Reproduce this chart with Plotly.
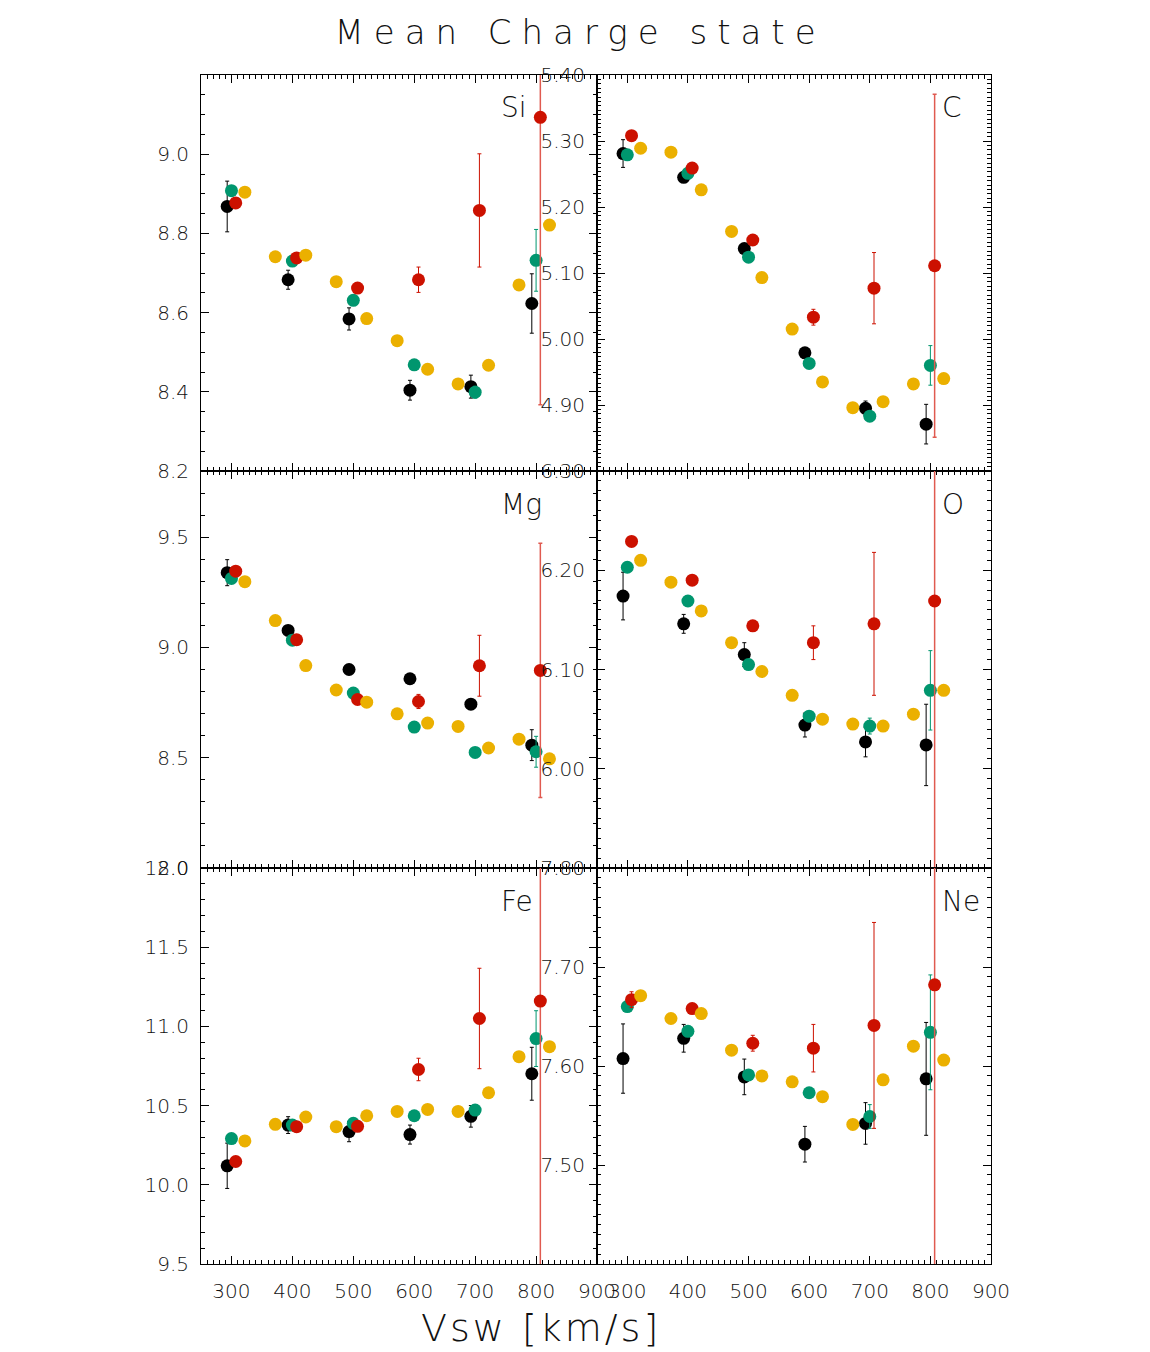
import plotly.graph_objects as go

# ---------------- data ----------------
vsw_black = [293, 393, 493, 593, 693, 793]
vsw_green = [300, 400, 500, 600, 700, 800]
vsw_red = [307, 407, 507, 607, 707, 807]
vsw_yellow = [322, 372, 422, 472, 522, 572, 622, 672, 722, 772, 822]

x_tick_vals = [300, 400, 500, 600, 700, 800, 900]

# Si
si_black = [8.868, 8.683, 8.584, 8.404, 8.413, 8.623]
si_black_err = [0.064, 0.024, 0.028, 0.025, 0.029, 0.075]
si_green = [8.908, 8.730, 8.631, 8.468, 8.399, 8.732]
si_green_err = [0.010, 0.005, 0.005, 0.005, 0.015, 0.078]
si_red = [8.877, 8.738, 8.662, 8.683, 8.858, 9.093]
si_red_err = [0.005, 0.005, 0.005, 0.032, 0.143, 0.726]
si_yellow = [8.904, 8.741, 8.745, 8.678, 8.585, 8.529, 8.457, 8.420, 8.467, 8.670, 8.821]
si_ticks = [8.2, 8.4, 8.6, 8.8, 9.0]
si_ticktext = ["8.2", "8.4", "8.6", "8.8", "9.0"]

# C
c_black = [5.281, 5.245, 5.137, 4.979, 4.895, 4.871]
c_black_err = [0.021, 0.004, 0.004, 0.004, 0.011, 0.030]
c_green = [5.279, 5.251, 5.124, 4.963, 4.883, 4.960]
c_green_err = [0.003, 0.003, 0.003, 0.003, 0.005, 0.030]
c_red = [5.308, 5.259, 5.150, 5.033, 5.077, 5.111]
c_red_err = [0.003, 0.003, 0.003, 0.012, 0.054, 0.260]
c_yellow = [5.289, 5.283, 5.226, 5.163, 5.093, 5.015, 4.935, 4.896, 4.905, 4.932, 4.940]
c_ticks = [4.9, 5.0, 5.1, 5.2, 5.3, 5.4]
c_ticktext = ["4.90", "5.00", "5.10", "5.20", "5.30", "5.40"]

# Mg
mg_black = [9.339, 9.077, 8.900, 8.858, 8.743, 8.557]
mg_black_err = [0.059, 0.010, 0.015, 0.010, 0.015, 0.070]
mg_green = [9.313, 9.033, 8.793, 8.639, 8.524, 8.527]
mg_green_err = [0.010, 0.010, 0.005, 0.005, 0.005, 0.070]
mg_red = [9.346, 9.035, 8.764, 8.755, 8.917, 8.896]
mg_red_err = [0.005, 0.005, 0.005, 0.032, 0.138, 0.576]
mg_yellow = [9.298, 9.122, 8.918, 8.807, 8.752, 8.699, 8.657, 8.642, 8.544, 8.584, 8.495]
mg_ticks = [8.0, 8.5, 9.0, 9.5]
mg_ticktext = ["8.0", "8.5", "9.0", "9.5"]

# O
o_black = [6.174, 6.146, 6.115, 6.044, 6.027, 6.024]
o_black_err = [0.024, 0.0095, 0.012, 0.012, 0.015, 0.041]
o_green = [6.203, 6.169, 6.105, 6.053, 6.043, 6.079]
o_green_err = [0.002, 0.002, 0.002, 0.002, 0.008, 0.040]
o_red = [6.229, 6.190, 6.144, 6.127, 6.146, 6.169]
o_red_err = [0.002, 0.002, 0.002, 0.017, 0.072, 0.450]
o_yellow = [6.210, 6.188, 6.159, 6.127, 6.098, 6.074, 6.050, 6.045, 6.043, 6.055, 6.079]
o_ticks = [6.0, 6.1, 6.2, 6.3]
o_ticktext = ["6.00", "6.10", "6.20", "6.30"]

# Fe
fe_black = [10.120, 10.377, 10.336, 10.317, 10.432, 10.701]
fe_black_err = [0.143, 0.053, 0.064, 0.060, 0.068, 0.167]
fe_green = [10.292, 10.377, 10.388, 10.436, 10.472, 10.923]
fe_green_err = [0.010, 0.020, 0.020, 0.010, 0.020, 0.176]
fe_red = [10.147, 10.367, 10.369, 10.728, 11.050, 11.160]
fe_red_err = [0.010, 0.010, 0.010, 0.071, 0.317, 1.800]
fe_yellow = [10.277, 10.382, 10.428, 10.367, 10.436, 10.463, 10.476, 10.463, 10.581, 10.809, 10.872]
fe_ticks = [9.5, 10.0, 10.5, 11.0, 11.5, 12.0]
fe_ticktext = ["9.5", "10.0", "10.5", "11.0", "11.5", "12.0"]

# Ne
ne_black = [7.6075, 7.628, 7.589, 7.521, 7.542, 7.587]
ne_black_err = [0.035, 0.014, 0.018, 0.018, 0.021, 0.057]
ne_green = [7.660, 7.635, 7.591, 7.573, 7.549, 7.634]
ne_green_err = [0.002, 0.002, 0.002, 0.002, 0.012, 0.058]
ne_red = [7.667, 7.658, 7.623, 7.618, 7.641, 7.682]
ne_red_err = [0.008, 0.002, 0.008, 0.024, 0.104, 0.450]
ne_yellow = [7.671, 7.648, 7.653, 7.616, 7.590, 7.584, 7.569, 7.541, 7.586, 7.620, 7.606]
ne_ticks = [7.5, 7.6, 7.7, 7.8]
ne_ticktext = ["7.50", "7.60", "7.70", "7.80"]

# ---------------- styling ----------------
W, H = 1150, 1352
FONT = "DejaVu Sans"
FW = 200
TXT = "#111111"
COL_BLACK = "#000000"
COL_GREEN = "#00966e"
COL_RED = "#cc1100"
COL_RED_LIGHT = "#e05a50"
COL_YELLOW = "#ebb000"

col_dom = [[201 / W, 597 / W], [597 / W, 991 / W]]
row_dom = [[1 - 471 / H, 1 - 75 / H], [1 - 868 / H, 1 - 471 / H], [1 - 1264 / H, 1 - 868 / H]]

panels = [
    dict(name="Si", row=0, col=0, yr=[8.2, 9.2], tv=si_ticks, tt=si_ticktext, minor=0.05,
         b=si_black, be=si_black_err, g=si_green, ge=si_green_err, r=si_red, re=si_red_err, y=si_yellow),
    dict(name="C", row=0, col=1, yr=[4.8, 5.4], tv=c_ticks, tt=c_ticktext, minor=0.1 / 15,
         b=c_black, be=c_black_err, g=c_green, ge=c_green_err, r=c_red, re=c_red_err, y=c_yellow),
    dict(name="Mg", row=1, col=0, yr=[8.0, 9.8], tv=mg_ticks, tt=mg_ticktext, minor=0.1,
         b=mg_black, be=mg_black_err, g=mg_green, ge=mg_green_err, r=mg_red, re=mg_red_err, y=mg_yellow),
    dict(name="O", row=1, col=1, yr=[5.9, 6.3], tv=o_ticks, tt=o_ticktext, minor=0.01,
         b=o_black, be=o_black_err, g=o_green, ge=o_green_err, r=o_red, re=o_red_err, y=o_yellow),
    dict(name="Fe", row=2, col=0, yr=[9.5, 12.0], tv=fe_ticks, tt=fe_ticktext, minor=0.1,
         b=fe_black, be=fe_black_err, g=fe_green, ge=fe_green_err, r=fe_red, re=fe_red_err, y=fe_yellow),
    dict(name="Ne", row=2, col=1, yr=[7.4, 7.8], tv=ne_ticks, tt=ne_ticktext, minor=0.01,
         b=ne_black, be=ne_black_err, g=ne_green, ge=ne_green_err, r=ne_red, re=ne_red_err, y=ne_yellow),
]

fig = go.Figure()
layout = dict(
    template="none",
    width=W, height=H, margin=dict(l=0, r=0, t=0, b=0, pad=0, autoexpand=False),
    paper_bgcolor="white", plot_bgcolor="white", showlegend=False,
    font=dict(family=FONT, color=TXT, weight=FW),
)

MS = 13


def err(vals, color, th=1):
    return dict(type="data", array=vals, visible=True, color=color, thickness=th, width=2)


annotations = []
for i, p in enumerate(panels):
    k = i + 1
    xa = "x" if k == 1 else f"x{k}"
    ya = "y" if k == 1 else f"y{k}"
    xkey = "xaxis" if k == 1 else f"xaxis{k}"
    ykey = "yaxis" if k == 1 else f"yaxis{k}"

    fig.add_trace(go.Scatter(x=vsw_black, y=p["b"], mode="markers", xaxis=xa, yaxis=ya,
                             marker=dict(color=COL_BLACK, size=MS, line=dict(width=0)),
                             error_y=err(p["be"], COL_BLACK)))
    fig.add_trace(go.Scatter(x=vsw_green, y=p["g"], mode="markers", xaxis=xa, yaxis=ya,
                             marker=dict(color=COL_GREEN, size=MS, line=dict(width=0)),
                             error_y=err(p["ge"], COL_GREEN)))
    fig.add_trace(go.Scatter(x=vsw_red[:-1], y=p["r"][:-1], mode="markers", xaxis=xa, yaxis=ya,
                             marker=dict(color=COL_RED, size=MS, line=dict(width=0)),
                             error_y=err(p["re"][:-1], COL_RED)))
    fig.add_trace(go.Scatter(x=vsw_red[-1:], y=p["r"][-1:], mode="markers", xaxis=xa, yaxis=ya,
                             marker=dict(color=COL_RED, size=MS, line=dict(width=0)),
                             error_y=err(p["re"][-1:], COL_RED_LIGHT, 1.5)))
    fig.add_trace(go.Scatter(x=vsw_yellow, y=p["y"], mode="markers", xaxis=xa, yaxis=ya,
                             marker=dict(color=COL_YELLOW, size=MS, line=dict(width=0))))

    bottom = p["row"] == 2
    layout[xkey] = dict(
        domain=col_dom[p["col"]], anchor=ya, range=[250, 900], automargin=False,
        tickmode="array", tickvals=x_tick_vals, ticktext=[str(v) for v in x_tick_vals],
        ticks="inside", ticklen=8, tickwidth=1, tickcolor="black",
        showline=True, linecolor="black", linewidth=1, mirror="allticks",
        showgrid=False, zeroline=False, showticklabels=bottom,
        tickfont=dict(family=FONT, size=20, color=TXT, weight=FW), ticklabelstandoff=9,
        minor=dict(tickmode="linear", tick0=300, dtick=10, ticks="inside", ticklen=4,
                   tickcolor="black", tickwidth=1, showgrid=False),
    )
    layout[ykey] = dict(
        domain=row_dom[p["row"]], anchor=xa, range=p["yr"], automargin=False,
        tickmode="array", tickvals=p["tv"], ticktext=p["tt"],
        ticks="inside", ticklen=8, tickwidth=1, tickcolor="black",
        showline=True, linecolor="black", linewidth=1, mirror="allticks",
        showgrid=False, zeroline=False,
        tickfont=dict(family=FONT, size=20, color=TXT, weight=FW), ticklabelstandoff=7,
        minor=dict(tickmode="linear", tick0=p["yr"][0], dtick=p["minor"], ticks="inside", ticklen=4,
                   tickcolor="black", tickwidth=1, showgrid=False),
    )
    lx = 499 / W if p["col"] == 0 else 940 / W
    ly = 1 - [107, 505, 901][p["row"]] / H
    annotations.append(dict(text=p["name"], x=lx, y=ly, xref="paper", yref="paper",
                            xanchor="left", yanchor="middle", showarrow=False,
                            font=dict(family=FONT, size=28, color=TXT, weight=FW)))

annotations.append(dict(text="Vsw [km/s]", x=541 / W, y=1 - 1328 / H, xref="paper", yref="paper",
                        xanchor="center", yanchor="middle", showarrow=False,
                        font=dict(family=FONT, size=38, color=TXT, weight=FW)))

layout["annotations"] = annotations
layout["title"] = dict(text="Mean Charge state", x=580 / W, xanchor="center",
                       y=1 - 32 / H, yanchor="middle", automargin=False,
                       font=dict(family=FONT, size=34, color=TXT, weight=FW))

fig.update_layout(**layout)

post = ("document.querySelectorAll('.gtitle').forEach(t => t.style.letterSpacing = '10px');"
        "document.querySelectorAll('.annotation-text').forEach(t => t.textContent.startsWith('Vsw') && (t.style.letterSpacing = '3px'));")
fig.write_html("out.html", post_script=post)
